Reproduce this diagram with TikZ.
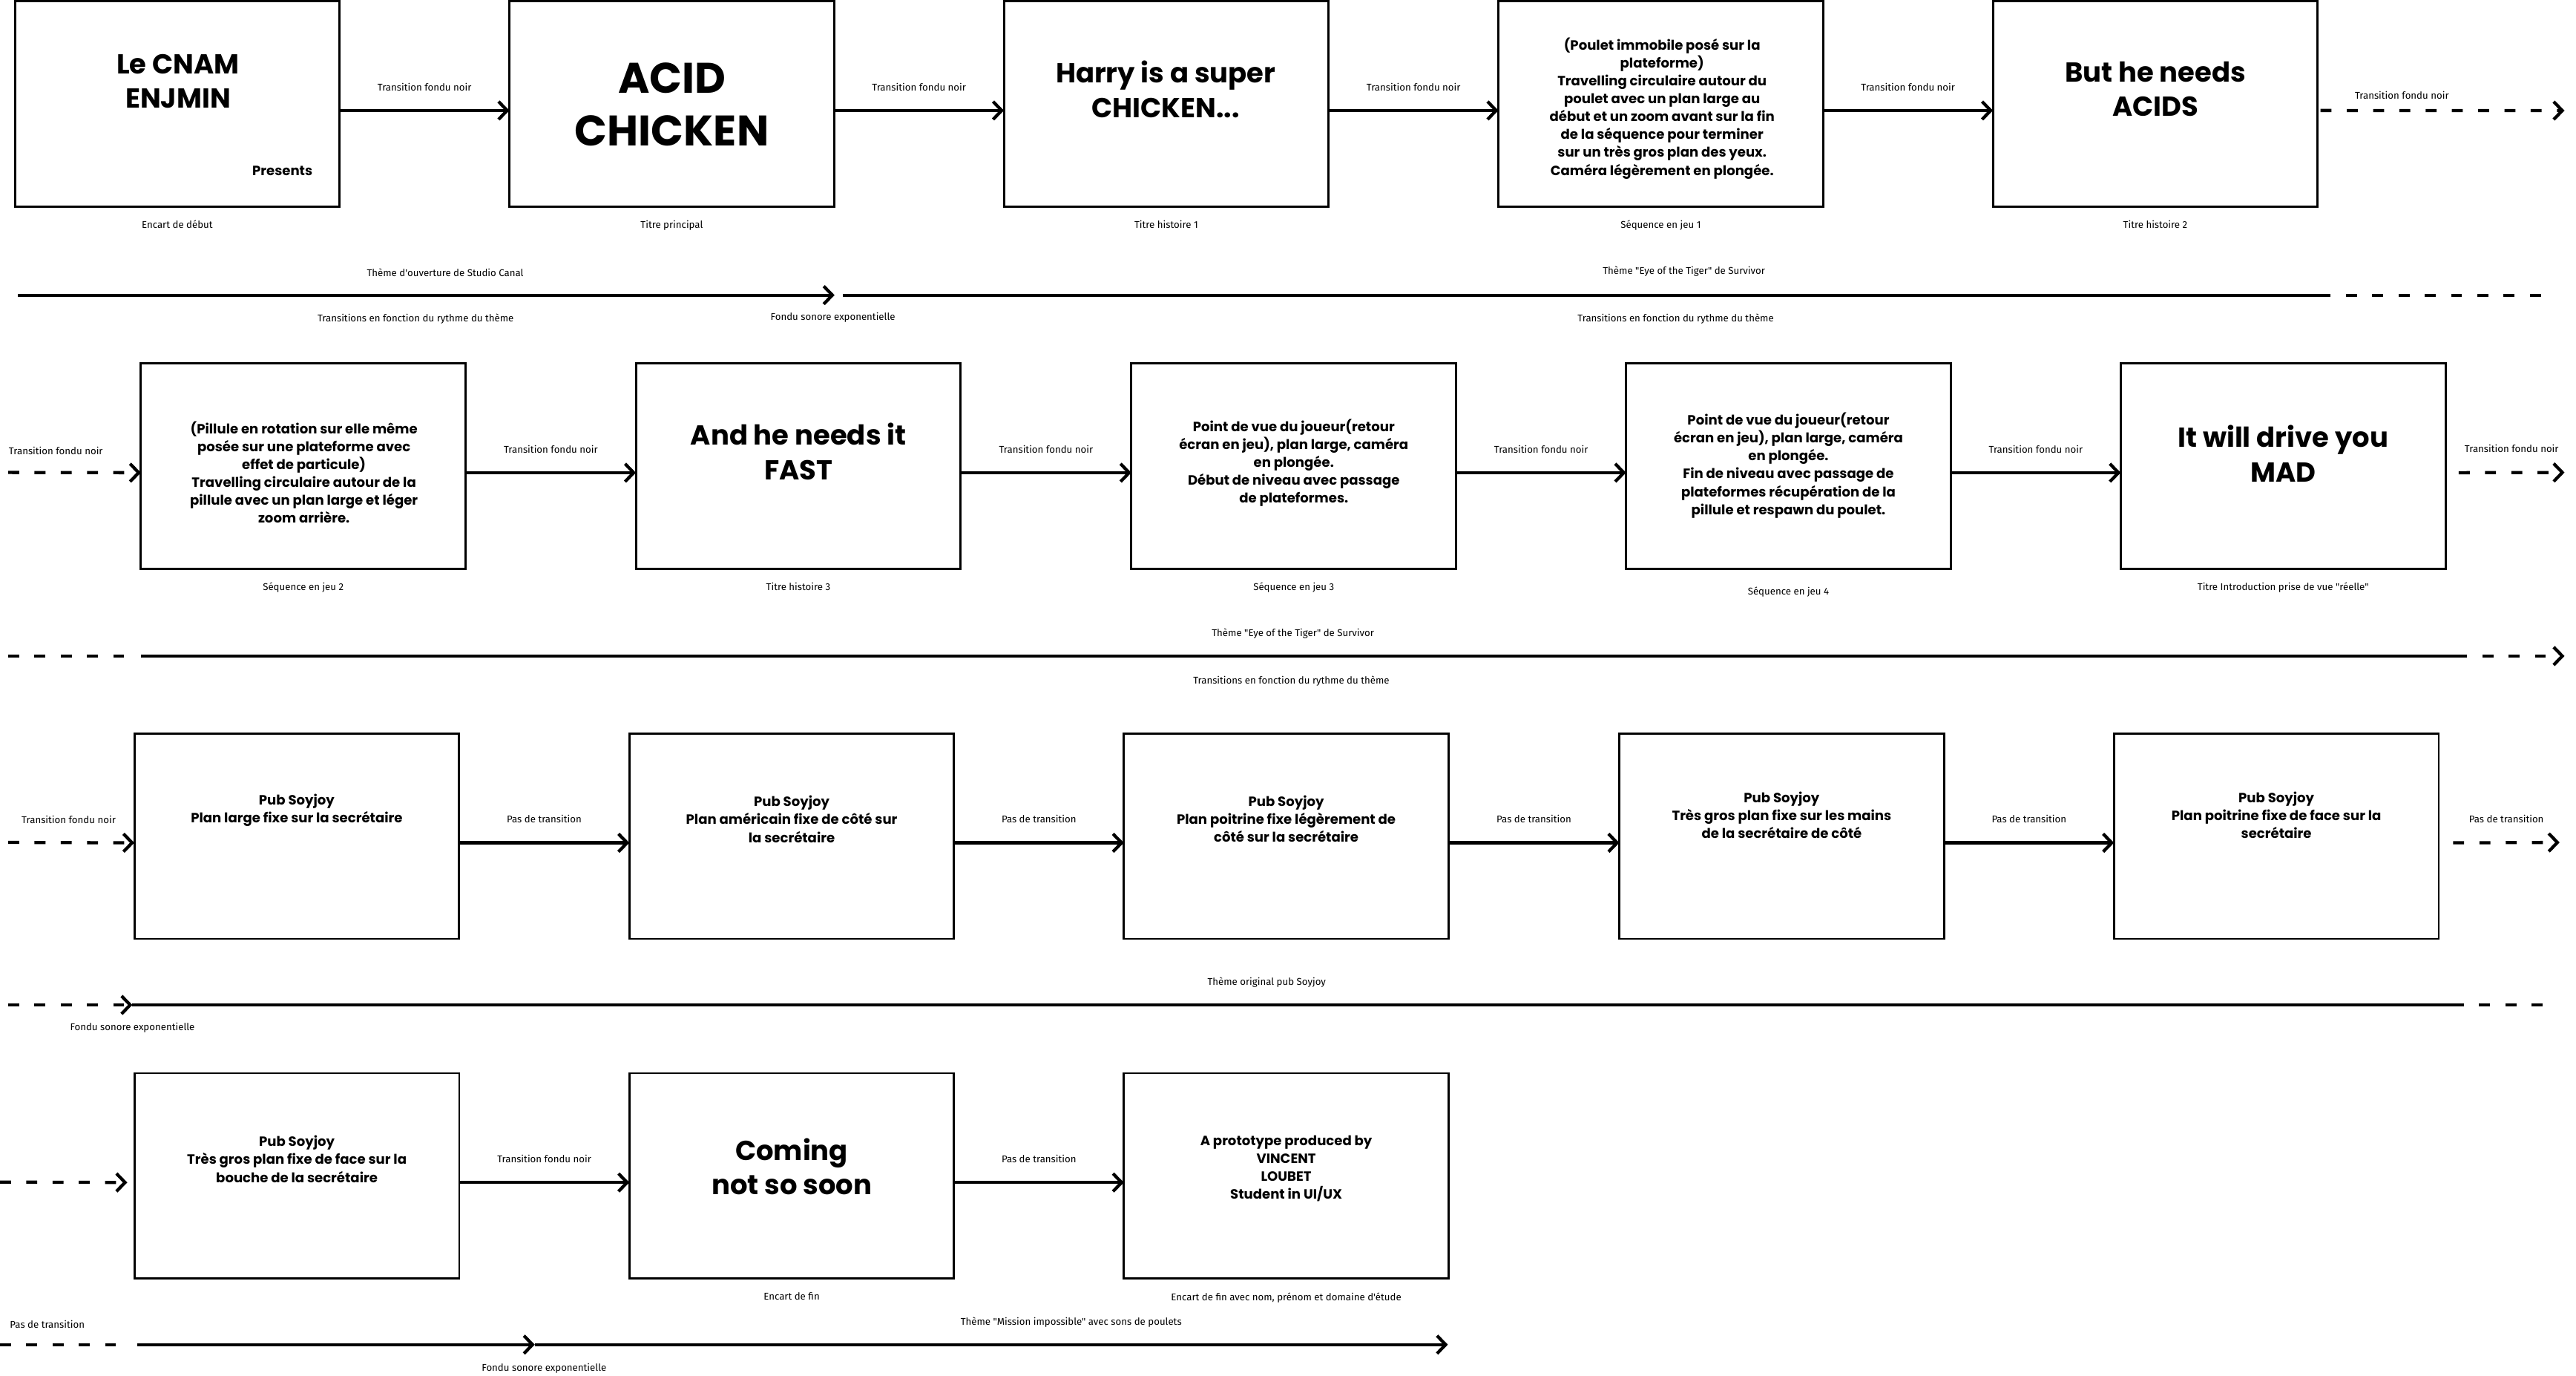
\documentclass[tikz,border=0pt]{standalone}
\usepackage{fontspec}
\setmainfont{Poppins}
\newfontfamily\lblfont{Fira Sans}
\usetikzlibrary{arrows.meta,positioning}
\tikzset{
	shot/.style={draw, line width=0.75pt, minimum width=3.954cm, minimum height=2.5cm, inner sep=0pt, outer sep=0pt},
	bodytxt/.style={align=center, inner sep=0pt, font=\fontsize{4.65}{6.2}\selectfont\bfseries},
	headtxt/.style={align=center, inner sep=0pt, font=\fontsize{9.5}{12}\selectfont\bfseries},
	bigtxt/.style={align=center, inner sep=0pt, font=\fontsize{14.8}{18.4}\selectfont\bfseries},
	lbl/.style={inner sep=1pt, font=\lblfont\fontsize{3.4}{4}\selectfont},
	flow/.style={line width=1.1pt, -{Straight Barb[length=3pt,width=6.2pt]}},
	dflow/.style={flow, dash pattern=on 3.8pt off 5.3pt},
	track/.style={line width=1.1pt},
	dtrack/.style={track, dash pattern=on 3.8pt off 5.3pt}
}

\begin{document}
\begin{tikzpicture}[x=0.02cm, y=-0.02cm]
		%%%%% START %%%%%
		\useasboundingbox (0,0) rectangle (1568,837);
		
		% ligne 1
		\node[shot] (a1) at (107.9,63.2) {};
		\node[shot] (a2) at (408.9,63.2) {};
		\node[shot] (a3) at (709.9,63.2) {};
		\node[shot] (a4) at (1010.9,63.2) {};
		\node[shot] (a5) at (1311.9,63.2) {};
		
		\node[headtxt] (ta1) at (108.4,49.5) {Le CNAM\\ENJMIN};
		\node[bodytxt] (ta1p) at (171.9,103.9) {Presents};
		\node[bigtxt] (ta2) at (409,63.6) {ACID\\CHICKEN};
		\node[headtxt] (ta3) at (709.6,54.5) {Harry is a super\\CHICKEN...};
		\node[bodytxt] (ta4) at (1011.7,65.9) {(Poulet immobile posé sur la\\plateforme)\\Travelling circulaire autour du\\poulet avec un plan large au\\début et un zoom avant sur la fin\\de la séquence pour terminer\\sur un très gros plan des yeux.\\Caméra légèrement en plongée.};
		\node[headtxt] (ta5) at (1312,54.2) {But he needs\\ACIDS};
		
		\node[lbl, below=3.7pt of a1] (ca1) {Encart de début};
		\node[lbl, below=3.7pt of a2] (ca2) {Titre principal};
		\node[lbl, below=3.7pt of a3] (ca3) {Titre histoire 1};
		\node[lbl, below=3.7pt of a4] (ca4) {Séquence en jeu 1};
		\node[lbl, below=3.7pt of a5] (ca5) {Titre histoire 2};
		
		\draw[flow] ([yshift=-2.3pt]a1.east) -- ([yshift=-2.3pt]a2.west) node[lbl, midway, above=5.3pt] (fa12) {Transition fondu noir};
		\draw[flow] ([yshift=-2.3pt]a2.east) -- ([yshift=-2.3pt]a3.west) node[lbl, midway, above=5.3pt] (fa23) {Transition fondu noir};
		\draw[flow] ([yshift=-2.3pt]a3.east) -- ([yshift=-2.3pt]a4.west) node[lbl, midway, above=5.3pt] (fa34) {Transition fondu noir};
		\draw[flow] ([yshift=-2.3pt]a4.east) -- ([yshift=-2.3pt]a5.west) node[lbl, midway, above=5.3pt] (fa45) {Transition fondu noir};
		\coordinate (oa) at (1561,67.3);
		\draw[dflow] ([xshift=1pt,yshift=-2.3pt]a5.east) -- (oa);
		\node[lbl] (fa5) at (1462,58) {Transition fondu noir};
		
		% son 1
		\coordinate (sa1) at (11,179.6);
		\coordinate (sa2) at (508,179.6);
		\coordinate (sa3) at (513,179.6);
		\coordinate (sa4) at (1412,179.6);
		\coordinate (sa5) at (1549,179.6);
		\draw[flow] (sa1) -- (sa2);
		\draw[track] (sa3) -- (sa4);
		\draw[dtrack] (sa4) -- (sa5);
		\node[lbl] (ma1) at (271,166) {Thème d'ouverture de Studio Canal};
		\node[lbl] (ma2) at (253,194) {Transitions en fonction du rythme du thème};
		\node[lbl] (ma3) at (507,193) {Fondu sonore exponentielle};
		\node[lbl] (ma4) at (1025,165) {Thème "Eye of the Tiger" de Survivor};
		\node[lbl] (ma5) at (1020,194) {Transitions en fonction du rythme du thème};
		
		% ligne 2
		\node[shot] (b1) at (184.6,283.6) {};
		\node[shot] (b2) at (485.9,283.6) {};
		\node[shot] (b3) at (787.5,283.6) {};
		\node[shot] (b4) at (1088.6,283.6) {};
		\node[shot] (b5) at (1389.7,283.6) {};
		
		\node[bodytxt] (tb1) at (185,287.4) {(Pillule en rotation sur elle même\\posée sur une plateforme avec\\effet de particule)\\Travelling circulaire autour de la\\pillule avec un plan large et léger\\zoom arrière.};
		\node[headtxt] (tb2) at (486,274.8) {And he needs it\\FAST};
		\node[bodytxt] (tb3) at (787.5,281.7) {Point de vue du joueur(retour\\écran en jeu), plan large, caméra\\en plongée.\\Début de niveau avec passage\\de plateformes.};
		\node[bodytxt] (tb4) at (1088.6,283.2) {Point de vue du joueur(retour\\écran en jeu), plan large, caméra\\en plongée.\\Fin de niveau avec passage de\\plateformes récupération de la\\pillule et respawn du poulet.};
		\node[headtxt] (tb5) at (1389.7,275.9) {It will drive you\\MAD};
		
		\node[lbl, below=3.7pt of b1] (cb1) {Séquence en jeu 2};
		\node[lbl, below=3.7pt of b2] (cb2) {Titre histoire 3};
		\node[lbl, below=3.7pt of b3] (cb3) {Séquence en jeu 3};
		\node[lbl, below=5.1pt of b4] (cb4) {Séquence en jeu 4};
		\node[lbl, below=3.7pt of b5] (cb5) {Titre Introduction prise de vue "réelle"};
		
		\coordinate (ib) at (5,287.5);
		\draw[dflow] (ib) -- ([yshift=-2.3pt]b1.west);
		\node[lbl] (fb0) at (34,274.4) {Transition fondu noir};
		\draw[flow] ([yshift=-2.3pt]b1.east) -- ([yshift=-2.3pt]b2.west) node[lbl, midway, above=5.3pt] (fb12) {Transition fondu noir};
		\draw[flow] ([yshift=-2.3pt]b2.east) -- ([yshift=-2.3pt]b3.west) node[lbl, midway, above=5.3pt] (fb23) {Transition fondu noir};
		\draw[flow] ([yshift=-2.3pt]b3.east) -- ([yshift=-2.3pt]b4.west) node[lbl, midway, above=5.3pt] (fb34) {Transition fondu noir};
		\draw[flow] ([yshift=-2.3pt]b4.east) -- ([yshift=-2.3pt]b5.west) node[lbl, midway, above=5.3pt] (fb45) {Transition fondu noir};
		\coordinate (ob) at (1561,287.5);
		\draw[dflow] ([xshift=4.6pt,yshift=-2.3pt]b5.east) -- (ob) node[lbl, midway, above=5.3pt] (fb5) {Transition fondu noir};
		
		% son 2
		\coordinate (sb1) at (5,399.2);
		\coordinate (sb2) at (78,399.2);
		\coordinate (sb3) at (85.7,399.2);
		\coordinate (sb4) at (1495,399.2);
		\coordinate (sb5) at (1561,399.2);
		\draw[dtrack] (sb1) -- (sb2);
		\draw[track] (sb3) -- (sb4);
		\draw[dflow] (sb4) -- (sb5);
		\node[lbl] (mb1) at (787,385.4) {Thème "Eye of the Tiger" de Survivor};
		\node[lbl] (mb2) at (786,414.4) {Transitions en fonction du rythme du thème};
		
		% ligne 3
		\node[shot] (c1) at (180.6,508.8) {};
		\node[shot] (c2) at (481.9,508.8) {};
		\node[shot] (c3) at (782.9,508.8) {};
		\node[shot] (c4) at (1084.5,508.8) {};
		\node[shot] (c5) at (1385.6,508.8) {};
		
		\node[bodytxt] (tc1) at (180.6,493) {Pub Soyjoy\\Plan large fixe sur la secrétaire};
		\node[bodytxt] (tc2) at (481.9,498.5) {Pub Soyjoy\\Plan américain fixe de côté sur\\la secrétaire};
		\node[bodytxt] (tc3) at (782.9,498.3) {Pub Soyjoy\\Plan poitrine fixe légèrement de\\côté sur la secrétaire};
		\node[bodytxt] (tc4) at (1084.5,496) {Pub Soyjoy\\Très gros plan fixe sur les mains\\de la secrétaire de côté};
		\node[bodytxt] (tc5) at (1385.6,496) {Pub Soyjoy\\Plan poitrine fixe de face sur la\\secrétaire};
		
		\coordinate (ic) at (5,512.6);
		\draw[dflow] (ic) -- ([yshift=-2.3pt]c1.west);
		\node[lbl] (fc0) at (41.8,498.7) {Transition fondu noir};
		\draw[flow] ([yshift=-2.3pt]c1.east) -- ([yshift=-2.3pt]c2.west) node[lbl, midway, above=5.3pt] (fc12) {Pas de transition};
		\draw[flow] ([yshift=-2.3pt]c2.east) -- ([yshift=-2.3pt]c3.west) node[lbl, midway, above=5.3pt] (fc23) {Pas de transition};
		\draw[flow] ([yshift=-2.3pt]c3.east) -- ([yshift=-2.3pt]c4.west) node[lbl, midway, above=5.3pt] (fc34) {Pas de transition};
		\draw[flow] ([yshift=-2.3pt]c4.east) -- ([yshift=-2.3pt]c5.west) node[lbl, midway, above=5.3pt] (fc45) {Pas de transition};
		\coordinate (oc) at (1558,512.6);
		\draw[dflow] ([xshift=5pt,yshift=-2.3pt]c5.east) -- (oc) node[lbl, midway, above=5.3pt] (fc5) {Pas de transition};
		
		% son 3
		\coordinate (sc1) at (5,611.5);
		\coordinate (sc2) at (80.6,611.5);
		\coordinate (sc3) at (1493,611.5);
		\coordinate (sc4) at (1551,611.5);
		\draw[dflow] (sc1) -- (sc2);
		\draw[track] (sc2) -- (sc3);
		\draw[dtrack] (sc3) -- (sc4);
		\node[lbl] (mc1) at (771,597.6) {Thème original pub Soyjoy};
		\node[lbl] (mc2) at (80.6,625.5) {Fondu sonore exponentielle};
		
		% ligne 4
		\node[shot] (d1) at (180.7,715.5) {};
		\node[shot] (d2) at (481.9,715.5) {};
		\node[shot] (d3) at (782.9,715.5) {};
		
		\node[bodytxt] (td1) at (180.7,705.3) {Pub Soyjoy\\Très gros plan fixe de face sur la\\bouche de la secrétaire};
		\node[headtxt] (td2) at (481.9,709.8) {Coming\\not so soon};
		\node[bodytxt] (td3) at (782.9,711) {A prototype produced by\\VINCENT\\LOUBET\\Student in UI/UX};
		
		\node[lbl, below=3.7pt of d2] (cd2) {Encart de fin};
		\node[lbl, below=3.7pt of d3] (cd3) {Encart de fin avec nom, prénom et domaine d'étude};
		
		\coordinate (id) at (0,719.3);
		\draw[dflow, shorten >=2.5pt] (id) -- ([yshift=-2.3pt]d1.west);
		\draw[flow] ([yshift=-2.3pt]d1.east) -- ([yshift=-2.3pt]d2.west) node[lbl, midway, above=5.3pt] (fd12) {Transition fondu noir};
		\draw[flow] ([yshift=-2.3pt]d2.east) -- ([yshift=-2.3pt]d3.west) node[lbl, midway, above=5.3pt] (fd23) {Pas de transition};
		
		% son 4
		\coordinate (sd1) at (0,818.2);
		\coordinate (sd2) at (72,818.2);
		\coordinate (sd3) at (83.5,818.2);
		\coordinate (sd4) at (325.5,818.2);
		\coordinate (sd5) at (881.3,818.2);
		\draw[dtrack] (sd1) -- (sd2);
		\draw[flow] (sd3) -- (sd4);
		\draw[flow] (sd4) -- (sd5);
		\node[lbl] (md1) at (28.8,805.7) {Pas de transition};
		\node[lbl] (md2) at (652,804.6) {Thème "Mission impossible" avec sons de poulets};
		\node[lbl] (md3) at (331.2,832.5) {Fondu sonore exponentielle};
		
		%%%%% END %%%%%
\end{tikzpicture}
\end{document}
